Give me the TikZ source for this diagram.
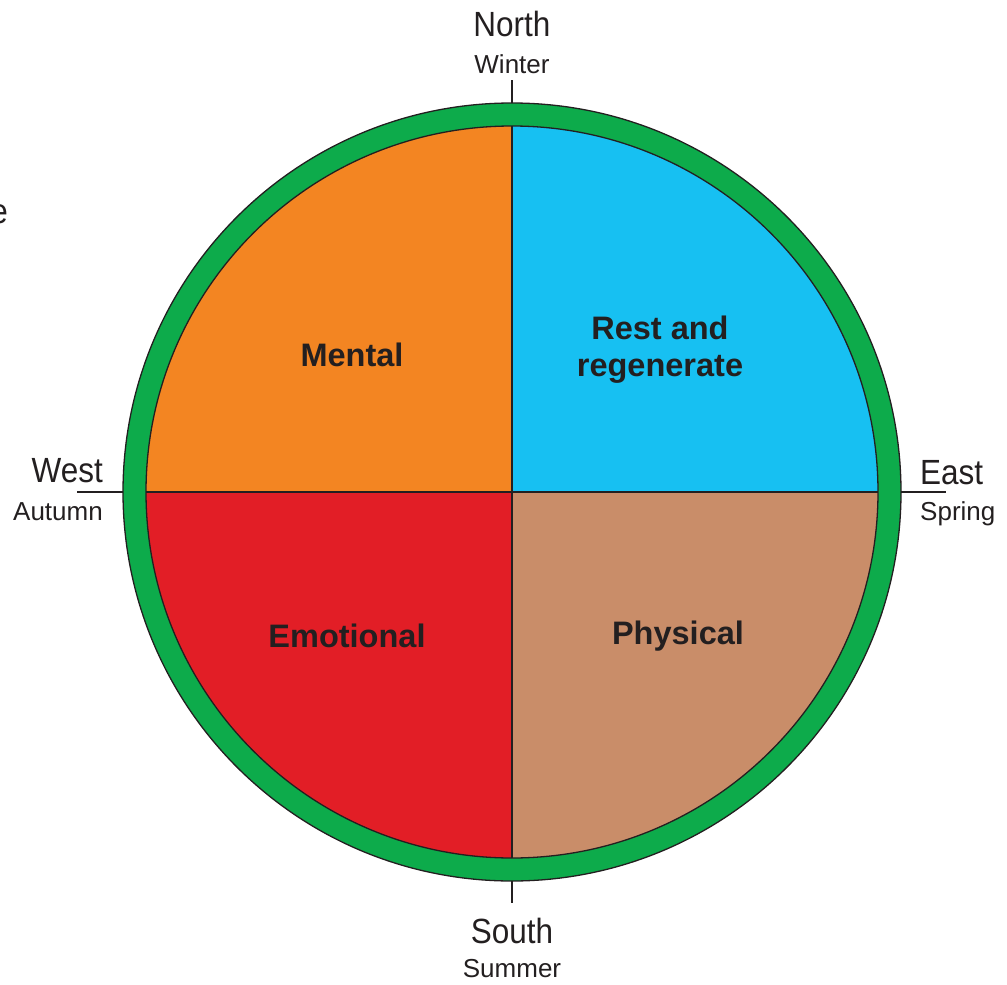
\documentclass[tikz,border=0pt]{standalone}
\usepackage{fontspec}
\setmainfont{Liberation Sans}
\newfontfamily\dirfont{Liberation Sans}[FakeStretch=0.9]
\definecolor{ringgreen}{HTML}{0DAB4B}
\definecolor{qorange}{HTML}{F38522}
\definecolor{qblue}{HTML}{17C0F2}
\definecolor{qred}{HTML}{E21E26}
\definecolor{qtan}{HTML}{C98D69}
\definecolor{ink}{HTML}{231F20}
\tikzset{
  dirlabel/.style={text=ink, font=\dirfont\fontsize{35}{38}\selectfont, inner sep=0pt},
  seasonlabel/.style={text=ink, font=\fontsize{26}{30}\selectfont, inner sep=0pt},
  quadlabel/.style={text=ink, font=\bfseries\fontsize{32.5}{37}\selectfont, align=center, inner sep=0pt},
  tick/.style={draw=ink, line width=1.3pt},
  outline/.style={draw=ink, line width=1.3pt}
}
\begin{document}
\begin{tikzpicture}[x=1pt,y=-1pt]
\useasboundingbox (0,0) rectangle (1007,985);
\coordinate (c) at (512,492);
% green ring
\fill[ringgreen] (c) circle[radius=389pt];
\draw[outline] (c) circle[radius=389pt];
% quadrants
\begin{scope}
\clip (c) circle[radius=366pt];
\fill[qorange] (c) rectangle ++(-400,-400);
\fill[qblue] (c) rectangle ++(400,-400);
\fill[qred] (c) rectangle ++(-400,400);
\fill[qtan] (c) rectangle ++(400,400);
\end{scope}
\coordinate (in-n) at (512,126);
\coordinate (in-s) at (512,858);
\coordinate (in-w) at (146,492);
\coordinate (in-e) at (878,492);
\draw[outline] (in-n) -- (in-s);
\draw[outline] (in-w) -- (in-e);
\draw[outline] (c) circle[radius=366pt];
% ticks
\coordinate (out-n) at (512,103);
\coordinate (out-s) at (512,881);
\coordinate (out-w) at (123,492);
\coordinate (out-e) at (901,492);
\coordinate (t-n) at (512,80);
\coordinate (t-s) at (512,903);
\coordinate (t-w) at (77,492);
\coordinate (t-e) at (946,492);
\draw[tick] (out-n) -- (t-n);
\draw[tick] (out-s) -- (t-s);
\draw[tick] (out-w) -- (t-w);
\draw[tick] (out-e) -- (t-e);
% direction labels
\node[dirlabel] (north) at (512,24) {North};
\node[seasonlabel] (winter) at (512,64) {Winter};
\node[dirlabel] (south) at (512,931) {South};
\node[seasonlabel] (summer) at (512,969) {Summer};
\node[dirlabel, anchor=east] (west) at (103,471) {West};
\node[seasonlabel, anchor=east] (autumn) at (103,512) {Autumn};
\node[dirlabel, anchor=west] (east) at (920,473) {East};
\node[seasonlabel, anchor=west] (spring) at (920,514) {Spring};
\node[dirlabel, anchor=east] (cut) at (8,214) {e};
% quadrant labels
\node[quadlabel] (mental) at (352,355) {Mental};
\node[quadlabel] (rest) at (660,350) {Rest and\\regenerate};
\node[quadlabel] (emotional) at (347,636) {Emotional};
\node[quadlabel] (physical) at (678,636) {Physical};
\end{tikzpicture}
\end{document}
